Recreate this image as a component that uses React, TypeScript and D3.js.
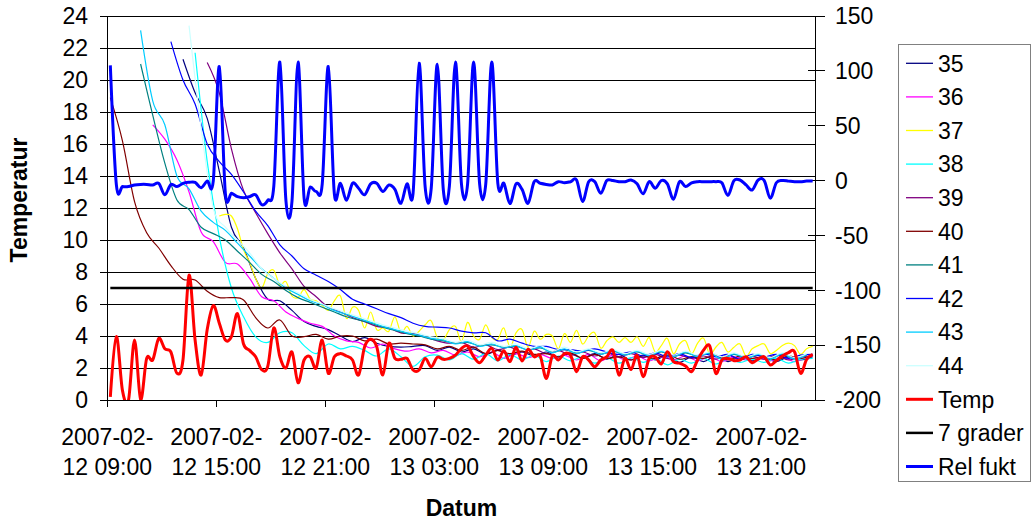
import React from 'react';
import * as d3 from 'd3';

// ---------- time frame ----------
const AXIS_START = new Date(2007, 1, 12, 9, 0);
const AXIS_END = new Date(2007, 1, 14, 0, 0);
const DATA_START = new Date(2007, 1, 12, 9, 10);
const STEP_MIN = 20; // minutes between logged samples

// ---------- x tick labels (every 6 h) ----------
const xTickTop = ['2007-02-', '2007-02-', '2007-02-', '2007-02-', '2007-02-', '2007-02-', '2007-02-'];
const xTickBottom = ['12 09:00', '12 15:00', '12 21:00', '13 03:00', '13 09:00', '13 15:00', '13 21:00'];
const leftTicks = [0, 2, 4, 6, 8, 10, 12, 14, 16, 18, 20, 22, 24];
const rightTicks = [-200, -150, -100, -50, 0, 50, 100, 150];

// ---------- data ----------
const relFukt = [105, -4, -5.5, -5.5, -4, -3.5, -3.5, -4, -2.5, -13, -3.5, -5.5, -2.5, -1.6, -1.6, -6.5, -0.4, -0.4, 104, -11.6,
  -11.6, -14.7, -15.6, -14.7, -13, -22, -18, -5, 108, -18, -19, 108, -16, -6, -10, -3, 104, -12, -2.5, -18,
  -2.5, -7, -13, -3, -2.5, -10, -4, -8, -20.7, -3, -11.6, 107, -6, -7, 106, -8.6, -5, 108, -3.5, -3.5,
  108, -3.5, -3.5, 108, -2.5, -2.5, -21, -3, -8, -20.7, -1, -2.5, -3.5, -4, -1, -2, -1, 0.5, -19, -1,
  -1, -11.6, 0, 0, -1, -1, 0.5, -3, -12, -1, -7, 0, -3, -17, -1, -5.5, -2, -1, -1, -1,
  -1, -2, -13.5, 0, 0.5, -4, -8.6, 0.5, 0, -16, -2, 0, -0.5, -1, -1, -0.5, -0.5];

const temp = [0.2, 3.96, 0.6, 0, 3.75, 0.04, 2.6, 2.5, 3.85, 3.2, 3.0, 1.67, 2.5, 7.8, 3.75, 1.56, 4.4, 5.9, 4.8, 3.75,
  3.96, 5.4, 3.5, 3.1, 2.7, 1.9, 2.1, 4.5, 2.7, 2.0, 3.0, 1.08, 2.5, 2.7, 2.0, 3.75, 1.67, 2.7, 2.9, 2.75,
  2.5, 1.56, 3.33, 3.8, 3.33, 1.56, 3.54, 2.6, 2.54, 2.6, 1.875, 1.875, 2.6, 2.08, 2.67, 2.54, 2.6, 2.8, 3.23, 3.375,
  2.71, 2.33, 2.8, 3.23, 2.5, 3.08, 2.4, 3.29, 2.44, 3.17, 2.7, 2.75, 1.35, 2.75, 2.5, 2.9, 2.8, 1.77, 2.7, 2.5,
  2.08, 2.5, 2.7, 3.1, 1.56, 2.6, 1.9, 2.8, 1.46, 2.6, 2.7, 2.25, 3.02, 2.4, 2.3, 2.125, 1.77, 2.5, 3.125, 3.375,
  1.67, 2.5, 2.6, 2.46, 2.5, 2.7, 2.33, 2.56, 2.7, 2.19, 2.46, 2.75, 2.96, 3.02, 1.67, 2.54, 2.85];

const sevenGrader = 7;

// sensor logs: first sample index (20-min grid) and sample stride
const s35Start = 12;
const s35 = [21.3, 19.2, 17.6, 14.3, 10.8, 9.5, 7.6, 6.3, 6.2, 5.6, 4.9, 4.6, 4.4, 4.0, 3.65, 3.9, 3.55, 3.35, 3.3, 3.35,
  3.4, 3.1, 3.3, 3.0, 3.2, 2.85, 3.1, 2.8, 3.0, 2.75, 3.0, 2.7, 2.9, 2.6, 2.9, 2.55, 2.85, 2.5, 2.8, 2.5,
  2.8, 2.35, 2.7, 2.4, 2.75, 2.4, 2.7, 2.45, 2.65, 2.4, 2.7, 2.5, 2.7];
const s36Start = 7;
const s36 = [17.2, 16.3, 15.0, 13.0, 10.5, 9.9, 8.6, 8.5, 7.6, 6.45, 6.2, 5.5, 5.1, 4.8, 4.6, 4.0, 3.7, 3.6, 3.25, 3.5,
  3.2, 3.05, 3.2, 2.95, 3.1, 2.8, 3.0, 2.7, 3.0, 2.6, 2.9, 2.65, 2.85, 2.6, 2.8, 2.5, 2.85, 2.45, 2.8, 2.5,
  2.75, 2.45, 2.7, 2.5, 2.75, 2.45, 2.7, 2.4, 2.7, 2.5, 2.65, 2.45, 2.7, 2.4, 2.75];
const s37Start = 18;
const s37 = [11.5, 11.6, 11.5, 10.7, 9.4, 8.6, 7.6, 7.0, 7.9, 8.1, 7.2, 7.4, 6.5, 6.4, 6.9, 6.3, 6.2, 5.9, 5.6, 6.2,
  6.5, 5.1, 5.8, 5.6, 4.5, 5.5, 4.4, 4.5, 4.3, 5.2, 4.2, 4.6, 4.0, 4.3,
  4.7, 4.95, 3.9, 3.75, 4.4, 4.6, 3.65, 4.85, 4.0, 3.8, 4.7, 3.9, 3.8, 4.5, 3.3, 4.2, 4.4, 3.3, 4.3, 3.8,
  4.1, 4.0, 3.2, 4.15, 3.6, 4.35, 3.5, 4.0, 4.2, 3.25, 3.7, 3.95, 3.6,
  3.9, 3.6, 3.95, 3.35, 3.9, 3.0, 3.4, 3.85, 2.9, 3.5, 3.7, 2.9, 3.55, 3.85, 2.85, 3.3, 3.6, 3.0, 3.3, 3.5,
  2.75, 3.2, 3.4, 3.5, 2.9, 3.1, 3.4, 3.55, 3.4, 2.85, 3.2, 3.35];
const s38Start = 14;
const s38 = [21.7, 14.9, 10.2, 7.0, 5.2, 3.95, 3.6, 4.2, 4.2, 3.4, 2.9, 3.5, 3.2, 3.35, 3.1, 2.75, 3.2, 2.7, 2.1, 2.7,
  2.8, 2.5, 2.9, 2.55, 2.9, 2.45, 2.85, 2.5, 2.8, 2.4, 2.75, 2.45, 2.7, 2.3, 2.65, 2.3, 2.65, 2.35, 2.6, 2.2,
  2.55, 2.3, 2.6, 2.25, 2.6, 2.35, 2.55, 2.35, 2.6, 2.3, 2.55, 2.6];
const s39Start = 16;
const s39 = [21.1, 19.2, 15.7, 13.1, 11.7, 10.4, 9.2, 8.2, 7.1, 6.45, 5.8, 5.5, 5.15, 4.9, 4.6, 4.5, 4.2, 4.15, 3.95, 3.7,
  3.55, 3.6, 3.3, 3.45, 3.15, 3.3, 3.0, 3.2, 2.9, 3.1, 2.8, 3.0, 2.75, 2.95, 2.7, 2.9, 2.65, 2.85, 2.6, 2.8,
  2.6, 2.75, 2.55, 2.8, 2.5, 2.75, 2.55, 2.8, 2.5, 2.7, 2.75];
const s40Start = 0;
const s40 = [18.9, 16.2, 12.4, 10.45, 9.5, 8.4, 7.55, 7.5, 6.8, 6.4, 6.4, 6.25, 5.15, 4.5, 5.0, 4.0, 3.96, 4.1, 3.8, 4.0,
  4.0, 3.7, 3.8, 3.5, 3.55, 3.5, 3.45, 3.2, 3.35, 3.1, 3.3, 2.9, 3.1, 2.9, 3.05, 2.85, 2.9, 2.7, 2.95, 2.6,
  2.85, 2.6, 2.7, 2.5, 2.75, 2.6, 2.85, 2.55, 2.7, 2.6, 2.8, 2.5, 2.75, 2.6, 2.7, 2.5, 2.75, 2.6, 2.8];
const s41Start = 5;
const s41 = [21.0, 17.8, 14.8, 12.5, 11.9, 10.8, 10.4, 10.0, 9.3, 8.6, 7.85, 7.4, 6.85, 6.4, 6.1, 5.8, 5.5, 5.2, 5.0, 4.8,
  4.55, 4.35, 4.15, 4.0, 3.8, 3.7, 3.55, 3.6, 3.4, 3.45, 3.3, 3.35, 3.15, 3.25, 3.0, 3.15, 2.95, 3.1, 2.9, 3.05,
  2.85, 3.0, 2.8, 3.0, 2.75, 2.95, 2.75, 2.9, 2.6, 2.85, 2.65, 2.8, 2.6, 2.85, 2.6, 2.8];
const s42Start = 10;
const s42 = [22.4, 20.0, 18.5, 16.0, 14.9, 14.1, 13.0, 11.8, 10.9, 9.7, 9.0, 8.2, 7.8, 7.4, 6.9, 6.3, 6.0, 5.7, 5.4, 5.15,
  4.8, 4.6, 4.55, 4.5, 4.3, 4.2, 4.2, 3.7, 3.8, 3.55, 3.35, 3.35, 3.15, 3.15, 3.05, 3.2, 3.0, 2.85, 3.0, 2.75,
  2.95, 2.7, 2.9, 2.65, 2.9, 2.7, 2.85, 2.55, 2.85, 2.7, 2.85, 2.6, 2.8, 2.85];
const s43Start = 5;
const s43 = [23.1, 18.7, 17.2, 14.0, 13.2, 11.8, 11.1, 10.6, 9.8, 9.0, 8.2, 7.6, 7.0, 6.6, 6.2, 5.95, 5.6, 5.35, 5.1, 4.85,
  4.6, 4.4, 4.2, 4.05, 3.85, 3.75, 3.5, 3.65, 3.35, 3.5, 3.25, 3.4, 3.1, 3.3, 2.95, 3.2, 2.9, 3.15, 2.85, 3.1,
  2.8, 3.05, 2.75, 3.05, 2.7, 3.0, 2.7, 2.95, 2.55, 2.9, 2.6, 2.85, 2.55, 2.9, 2.55, 2.85];
const s44Start = 13;
const s44 = [23.4, 17.0, 12.0, 10.8, 10.0, 9.2, 8.2, 7.6, 7.1, 6.7, 6.3, 6.0, 5.7, 5.45, 5.2, 4.95, 4.7, 4.5, 4.3, 4.15,
  3.95, 3.85, 3.6, 3.75, 3.45, 3.6, 3.35, 3.5, 3.2, 3.4, 3.05, 3.3, 3.0, 3.2, 2.95, 3.15, 2.9, 3.1, 2.85, 3.1,
  2.8, 3.05, 2.8, 3.0, 2.7, 2.95, 2.7, 2.9, 2.65, 2.95, 2.65, 2.9];

const sensors = [
  { name: '35', color: '#000080', start: s35Start, stride: 2, values: s35 },
  { name: '36', color: '#FF00FF', start: s36Start, stride: 2, values: s36 },
  { name: '37', color: '#FFFF00', start: s37Start, stride: 1, values: s37 },
  { name: '38', color: '#00FFFF', start: s38Start, stride: 2, values: s38 },
  { name: '39', color: '#800080', start: s39Start, stride: 2, values: s39 },
  { name: '40', color: '#800000', start: s40Start, stride: 2, values: s40 },
  { name: '41', color: '#008080', start: s41Start, stride: 2, values: s41 },
  { name: '42', color: '#0000FF', start: s42Start, stride: 2, values: s42 },
  { name: '43', color: '#00CCFF', start: s43Start, stride: 2, values: s43 },
  { name: '44', color: '#CCFFFF', start: s44Start, stride: 2, values: s44 },
];

const FONT = '"Liberation Sans", Arial, Helvetica, sans-serif';

const timeAt = (i: number) => new Date(DATA_START.getTime() + i * STEP_MIN * 60000);

export default function App() {
  const W = 1032, H = 525;
  const left = 107.3, right = 815.7, top = 16, bottom = 400;
  const x = d3.scaleTime().domain([AXIS_START, AXIS_END]).range([left, right]);
  const yL = d3.scaleLinear().domain([0, 24]).range([bottom, top]);
  const yR = d3.scaleLinear().domain([-200, 150]).range([bottom, top]);

  // Excel-style smoothed lines (uniform Catmull-Rom)
  const mkLine = (y: d3.ScaleLinear<number, number>) =>
    d3.line<[Date, number]>().x(d => x(d[0])).y(d => y(d[1])).curve(d3.curveCatmullRom.alpha(0));
  const lineL = mkLine(yL);
  const lineR = mkLine(yR);

  const xTicks = xTickBottom.map((_, k) => new Date(AXIS_START.getTime() + k * 6 * 3600000));

  const tempPts: [Date, number][] = temp.map((v, i) => [timeAt(i), v]);
  const rhPts: [Date, number][] = relFukt.map((v, i) => [timeAt(i), v]);
  const sevenPts: [Date, number][] = [[timeAt(0), sevenGrader], [timeAt(temp.length - 1), sevenGrader]];

  const legendItems = [
    ...sensors.map(s => ({ name: s.name, color: s.color, w: 1.3 })),
    { name: 'Temp', color: '#FF0000', w: 3 },
    { name: '7 grader', color: '#000000', w: 2.5 },
    { name: 'Rel fukt', color: '#0000FF', w: 3 },
  ];

  return (
    <svg width={W} height={H} style={{ position: 'absolute', left: 0, top: 0, background: '#fff' }}
      fontFamily={FONT}>
      <defs>
        <clipPath id="plotClip">
          <rect x={left} y={top - 2} width={right - left} height={bottom - top + 2} />
        </clipPath>
      </defs>
      <rect x={0} y={0} width={W} height={H} fill="#fff" />
      {/* gridlines */}
      {leftTicks.map(t => (
        <line key={'g' + t} x1={left} x2={right} y1={yL(t)} y2={yL(t)} stroke="#000" strokeWidth={1}
          shapeRendering="crispEdges" />
      ))}
      {/* left axis */}
      <line x1={left} x2={left} y1={top} y2={bottom} stroke="#000" strokeWidth={1} shapeRendering="crispEdges" />
      {leftTicks.map(t => (
        <g key={'lt' + t}>
          <line x1={left - 7} x2={left} y1={yL(t)} y2={yL(t)} stroke="#000" shapeRendering="crispEdges" />
          <text x={88} y={yL(t)} dy="0.36em" textAnchor="end" fontSize={23} fill="#000">{t}</text>
        </g>
      ))}
      {/* right axis */}
      <line x1={right} x2={right} y1={top} y2={bottom} stroke="#000" strokeWidth={1} shapeRendering="crispEdges" />
      {rightTicks.map(t => (
        <g key={'rt' + t}>
          <line x1={right - 8} x2={right + 9} y1={yR(t)} y2={yR(t)} stroke="#000" shapeRendering="crispEdges" />
          <text x={835} y={yR(t)} dy="0.36em" textAnchor="start" fontSize={23} fill="#000">{t}</text>
        </g>
      ))}
      {/* x axis */}
      <line x1={left} x2={right} y1={bottom} y2={bottom} stroke="#000" strokeWidth={1} shapeRendering="crispEdges" />
      {xTicks.map((d, k) => (
        <g key={'xt' + k}>
          <line x1={x(d)} x2={x(d)} y1={bottom} y2={bottom + 7} stroke="#000" shapeRendering="crispEdges" />
          <text x={x(d)} y={445} textAnchor="middle" fontSize={23} fill="#000">{xTickTop[k]}</text>
          <text x={x(d)} y={475} textAnchor="middle" fontSize={23} fill="#000">{xTickBottom[k]}</text>
        </g>
      ))}
      {/* axis titles */}
      <text transform="translate(27,200) rotate(-90)" textAnchor="middle" fontSize={23} fontWeight="bold">Temperatur</text>
      <text x={(left + right) / 2} y={516} textAnchor="middle" fontSize={23} fontWeight="bold">Datum</text>

      <g clipPath="url(#plotClip)">
        {/* sensor series */}
        {sensors.map(s => {
          const pts: [Date, number][] = s.values.map((v, k) => [timeAt(s.start + k * s.stride), v]);
          return <path key={s.name} d={lineL(pts) || ''} fill="none" stroke={s.color} strokeWidth={1.2} />;
        })}
        <path d={lineL(tempPts) || ''} fill="none" stroke="#FF0000" strokeWidth={3} strokeLinejoin="round" />
        <path d={lineL(sevenPts) || ''} fill="none" stroke="#000" strokeWidth={2.5} />
        <path d={lineR(rhPts) || ''} fill="none" stroke="#0000FF" strokeWidth={3} strokeLinejoin="round" />
      </g>

      {/* legend */}
      <rect x={898.5} y={44.5} width={132} height={437} fill="#fff" stroke="#808080" strokeWidth={1} />
      {legendItems.map((it, k) => {
        const cy = 63.3 + k * 33.6;
        return (
          <g key={'lg' + k}>
            <line x1={906} x2={933} y1={cy} y2={cy} stroke={it.color} strokeWidth={it.w} />
            <text x={938} y={cy} dy="0.36em" fontSize={23} fill="#000">{it.name}</text>
          </g>
        );
      })}
    </svg>
  );
}
